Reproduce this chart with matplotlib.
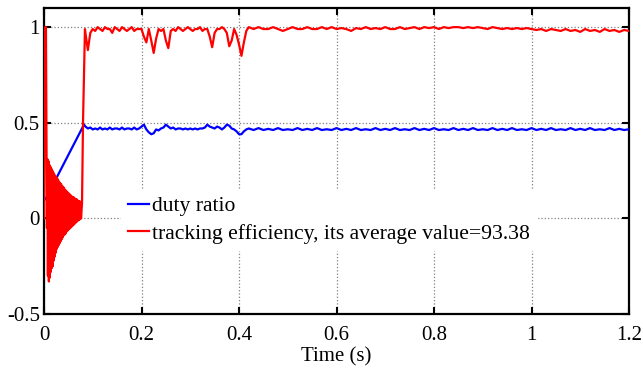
import numpy as np
import matplotlib
matplotlib.use("Agg")
import matplotlib.pyplot as plt

plt.rcParams['font.family'] = ['Liberation Serif', 'DejaVu Serif']

# ---------------- data ----------------
# red: tracking efficiency, start-up part
red_start_t = [0.000, 0.002, 0.004, 0.006]
red_start_v = [0.00, 1.00, 1.00, -0.05]

# oscillation peaks (upper and lower envelope values, one pair per cycle, 0.007 .. 0.076)
osc_hi = [0.31, 0.30, 0.28, 0.27, 0.26, 0.25, 0.24, 0.23, 0.22, 0.215, 0.21, 0.20,
          0.19, 0.185, 0.18, 0.17, 0.165, 0.16, 0.15, 0.145, 0.14, 0.135, 0.13, 0.125,
          0.12, 0.115, 0.11, 0.11, 0.105, 0.10, 0.10, 0.095, 0.09, 0.09, 0.085]
osc_lo = [-0.30, -0.33, -0.31, -0.28, -0.26, -0.25, -0.22, -0.20, -0.18, -0.16, -0.15, -0.14,
          -0.13, -0.12, -0.11, -0.10, -0.09, -0.085, -0.08, -0.07, -0.065, -0.06, -0.055, -0.05,
          -0.045, -0.04, -0.035, -0.03, -0.025, -0.02, -0.015, -0.01, -0.008, -0.004, 0.0]

red_rise_t = [0.078, 0.080, 0.084, 0.086]
red_rise_v = [0.08, 0.50, 0.99, 0.95]

red_mid = [0.88, 0.97, 0.99, 0.98, 1.00, 0.99, 0.98, 1.00, 0.99, 0.99, 0.97, 1.00,
           0.99, 0.98, 1.00, 0.99, 0.98, 0.99, 1.00, 0.98, 0.99, 0.99, 0.99, 0.95,
           0.92, 0.99, 0.93, 0.865, 0.94, 0.99, 0.98, 0.99, 0.93, 0.89, 0.98, 0.99,
           0.98, 1.00, 0.99, 0.98, 0.99, 1.00, 0.99, 0.98, 0.99, 0.99, 1.00, 0.98,
           0.99, 0.99, 0.95, 0.895, 0.97, 0.99, 0.99, 1.00, 0.99, 0.97, 0.90, 0.93,
           0.99, 0.96, 0.91, 0.85, 0.92, 0.98, 1.00]   # 0.090 .. 0.420 step 0.005

red_late = [0.99, 1.00, 0.99, 0.99, 1.00, 0.99, 0.98, 0.99, 1.00, 0.99, 0.99, 1.00,
            0.99, 0.99, 1.00, 0.99, 1.00, 0.99, 0.995, 0.99, 0.98, 0.995, 0.99, 1.00,
            0.99, 0.995, 0.99, 1.00, 0.99, 0.99, 1.00, 0.99, 0.995, 1.00, 0.99, 1.00,
            0.995, 1.00, 0.99, 1.00, 0.995, 1.00, 1.00, 0.995, 1.00, 0.995, 1.00, 0.995,
            0.99, 1.00, 0.995, 0.99, 0.995, 0.99, 0.995, 0.99, 0.995, 0.99, 0.985, 0.99,
            0.98, 0.99, 0.985, 0.98, 0.99, 0.98, 0.985, 0.975, 0.99, 0.98, 0.985, 0.975,
            0.99, 0.98, 0.985, 0.975, 0.985, 0.98]   # 0.43 .. 1.20 step 0.01

# blue: duty ratio
blue_start_t = [0.000, 0.003, 0.082]
blue_start_v = [0.10, 0.10, 0.49]
blue_mid = [0.48, 0.47, 0.475, 0.465, 0.47, 0.465, 0.475, 0.465, 0.47, 0.465, 0.475, 0.465,
            0.47, 0.47, 0.465, 0.475, 0.465, 0.47, 0.47, 0.465, 0.475, 0.465, 0.47, 0.48,
            0.49, 0.465, 0.45, 0.44, 0.445, 0.465, 0.46, 0.47, 0.475, 0.49, 0.48, 0.47,
            0.475, 0.465, 0.47, 0.47, 0.465, 0.47, 0.465, 0.47, 0.465, 0.47, 0.465, 0.47,
            0.47, 0.475, 0.49, 0.48, 0.475, 0.47, 0.48, 0.475, 0.465, 0.475, 0.49, 0.485,
            0.47, 0.465, 0.455, 0.44, 0.44, 0.455, 0.465, 0.47]   # 0.085 .. 0.420 step 0.005
blue_late = [0.462, 0.472, 0.462, 0.468, 0.462, 0.472, 0.462, 0.466, 0.462, 0.472, 0.462, 0.468,
             0.462, 0.472, 0.462, 0.466, 0.462, 0.472, 0.462, 0.468, 0.462, 0.472, 0.462, 0.466,
             0.462, 0.472, 0.462, 0.468, 0.462, 0.472, 0.462, 0.466, 0.462, 0.472, 0.462, 0.468,
             0.462, 0.472, 0.462, 0.466, 0.462, 0.472, 0.462, 0.468, 0.462, 0.472, 0.462, 0.466,
             0.462, 0.472, 0.462, 0.468, 0.462, 0.472, 0.462, 0.466, 0.462, 0.472, 0.462, 0.468,
             0.462, 0.472, 0.462, 0.466, 0.462, 0.472, 0.462, 0.468, 0.462, 0.472, 0.462, 0.466,
             0.462, 0.472, 0.462, 0.468, 0.462, 0.466]   # 0.43 .. 1.20 step 0.01

x_ticks = [0, 0.2, 0.4, 0.6, 0.8, 1.0, 1.2]
x_tick_labels = ["0", "0.2", "0.4", "0.6", "0.8", "1", "1.2"]
y_ticks = [-0.5, 0, 0.5, 1]
y_tick_labels = ["-0.5", "0", "0.5", "1"]
labels = ["duty ratio", "tracking efficiency, its average value=93.38"]

# ---------------- assemble series ----------------
osc_t = []
osc_v = []
for i, (h, l) in enumerate(zip(osc_hi, osc_lo)):
    osc_t += [0.007 + 0.002 * i, 0.008 + 0.002 * i]
    osc_v += [h, l]
red_t = (red_start_t + osc_t + red_rise_t
         + list(np.round(np.arange(len(red_mid)) * 0.005 + 0.090, 4))
         + list(np.round(np.arange(len(red_late)) * 0.01 + 0.43, 4)))
red_v = red_start_v + osc_v + red_rise_v + red_mid + red_late

blue_t = (blue_start_t
          + list(np.round(np.arange(len(blue_mid)) * 0.005 + 0.085, 4))
          + list(np.round(np.arange(len(blue_late)) * 0.01 + 0.43, 4)))
blue_v = blue_start_v + blue_mid + blue_late

# ---------------- plot ----------------
fig = plt.figure(figsize=(6.43, 3.69), dpi=100)
ax = fig.add_axes([44 / 643, 1 - 314 / 369, 585 / 643, 306 / 369])

ax.plot(blue_t, blue_v, color=(0, 0, 1), lw=1.6, label=labels[0], zorder=3)
ax.plot(red_t, red_v, color=(1, 0, 0), lw=1.6, label=labels[1], zorder=3)

ax.set_xlim(0, 1.2)
ax.set_ylim(-0.5, 1.1)
ax.set_xticks(x_ticks)
ax.set_xticklabels(x_tick_labels)
ax.set_yticks(y_ticks)
ax.set_yticklabels(y_tick_labels)
ax.grid(True, color='#808080', linestyle=':', linewidth=0.9, zorder=0)
ax.set_axisbelow(True)
ax.tick_params(direction='in', length=5, width=1.5, top=True, right=True,
               labelsize=15)
ax.tick_params(axis='x', pad=9)
ax.tick_params(axis='y', pad=3)
for s in ax.spines.values():
    s.set_linewidth(1.6)
ax.set_xlabel("Time (s)", fontsize=15, labelpad=1)

leg = ax.legend(loc='center left', bbox_to_anchor=((121 - 44) / 585, (314 - 220) / 306),
                fontsize=15.6, frameon=True, fancybox=False, edgecolor='white',
                facecolor='white', framealpha=1, borderaxespad=0,
                handlelength=1.0, handletextpad=0.15, labelspacing=0.35,
                borderpad=0.3)
leg.set_zorder(5)

fig.savefig("out.png", dpi=100)
